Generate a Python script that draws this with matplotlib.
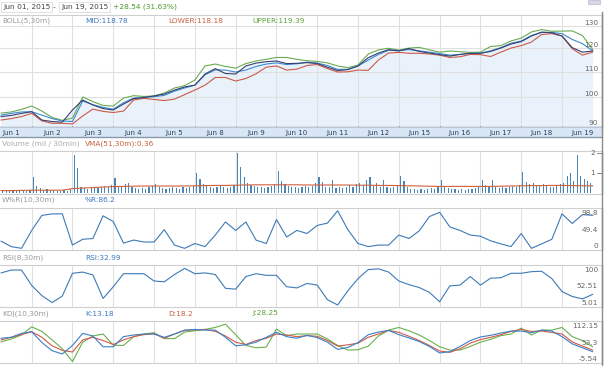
import numpy as np
import matplotlib.pyplot as plt
from matplotlib.patches import Rectangle

W, H = 605, 366

# ---- data (30 min bars, sampled every quarter day) ----
days = ['Jun 1', 'Jun 2', 'Jun 3', 'Jun 4', 'Jun 5', 'Jun 8', 'Jun 9', 'Jun 10',
        'Jun 11', 'Jun 12', 'Jun 15', 'Jun 16', 'Jun 17', 'Jun 18', 'Jun 19']

close = [93.1, 93.5, 94.2, 94.8, 91.9, 91.4, 91.2, 95.4, 99.0, 97.2,
         95.9, 95.4, 97.5, 99.5, 99.9, 100.5, 101.2, 102.7, 103.9, 104.6,
         109.0, 111.2, 109.2, 109.0, 112.3, 113.5, 114.1, 114.4, 113.3, 113.4,
         113.7, 113.3, 111.8, 110.4, 110.8, 112.3, 115.8, 117.8, 119.3, 118.7,
         119.8, 118.5, 117.8, 117.1, 116.5, 117.2, 117.7, 117.7, 118.5, 120.0,
         121.8, 122.9, 125.5, 127.3, 127.0, 125.5, 120.2, 118.2, 118.7]
upper = [94.3, 94.7, 95.6, 96.8, 95.0, 92.8, 91.8, 92.6, 100.1, 98.4,
         97.0, 96.8, 99.7, 100.6, 100.3, 100.5, 101.6, 103.5, 104.4, 106.6,
         112.3, 113.1, 112.1, 111.4, 113.3, 114.4, 115.1, 115.9, 115.9, 115.1,
         114.5, 114.2, 113.6, 112.3, 111.6, 112.7, 117.4, 119.2, 119.9, 119.1,
         120.0, 120.3, 119.2, 118.2, 118.7, 118.4, 118.1, 118.2, 120.7, 121.1,
         123.2, 124.5, 127.4, 128.5, 127.7, 127.8, 127.9, 125.7, 119.4]
mid = [93.6, 94.2, 94.7, 94.8, 93.6, 92.4, 91.6, 91.4, 98.6, 97.3,
       96.3, 95.7, 98.0, 99.7, 100.0, 100.2, 100.7, 102.3, 103.5, 104.6,
       108.7, 110.7, 110.6, 109.8, 110.6, 112.1, 113.1, 113.6, 112.9, 113.2,
       113.9, 113.5, 112.5, 110.9, 110.9, 112.3, 114.8, 117.2, 119.0, 118.9,
       119.3, 118.8, 118.2, 117.6, 116.9, 117.2, 117.7, 117.7, 118.8, 120.2,
       122.2, 123.2, 125.7, 127.2, 127.2, 126.6, 123.9, 122.0, 118.78]
lower = [91.9, 92.4, 93.1, 94.2, 91.6, 90.8, 90.8, 90.6, 93.3, 95.7,
         94.9, 94.5, 95.0, 99.0, 99.6, 99.2, 98.8, 99.3, 101.0, 102.7,
         104.6, 107.6, 107.6, 106.2, 107.2, 109.1, 111.8, 112.3, 110.6, 111.0,
         112.5, 112.9, 111.2, 109.8, 109.9, 110.6, 110.5, 114.8, 117.8, 118.1,
         117.7, 117.7, 117.4, 116.9, 115.9, 116.2, 117.2, 117.1, 116.3, 118.2,
         120.0, 121.1, 122.7, 126.2, 126.6, 125.5, 119.7, 116.9, 118.18]

vma = [0.12, 0.12, 0.13, 0.14, 0.14, 0.14, 0.14, 0.22, 0.25, 0.27,
       0.30, 0.32, 0.33, 0.34, 0.35, 0.35, 0.35, 0.35, 0.35, 0.36,
       0.37, 0.38, 0.38, 0.39, 0.40, 0.41, 0.41, 0.41, 0.41, 0.41,
       0.40, 0.40, 0.40, 0.40, 0.40, 0.39, 0.39, 0.38, 0.38, 0.37,
       0.36, 0.35, 0.34, 0.33, 0.33, 0.33, 0.33, 0.33, 0.33, 0.34,
       0.35, 0.36, 0.37, 0.37, 0.38, 0.38, 0.37, 0.36, 0.36]

# volume bars, 12 per day (first day starts late, last day ends early)
vol_days = [
    [0.10, 0.12, 0.10, 0.08, 0.10, 0.09, 0.12, 0.10, 0.15],
    [0.80, 0.35, 0.25, 0.15, 0.20, 0.12, 0.15, 0.12, 0.10, 0.15, 0.12, 0.20],
    [1.90, 1.25, 0.30, 0.25, 0.20, 0.25, 0.30, 0.25, 0.30, 0.35, 0.30, 0.40],
    [0.75, 0.35, 0.30, 0.45, 0.50, 0.30, 0.25, 0.20, 0.25, 0.20, 0.30, 0.35],
    [0.45, 0.30, 0.25, 0.20, 0.25, 0.30, 0.25, 0.20, 0.30, 0.25, 0.30, 0.35],
    [1.00, 0.70, 0.45, 0.35, 0.30, 0.25, 0.30, 0.35, 0.30, 0.25, 0.30, 0.40],
    [2.00, 1.30, 0.80, 0.50, 0.40, 0.35, 0.30, 0.30, 0.25, 0.30, 0.35, 0.45],
    [1.10, 0.60, 0.45, 0.35, 0.30, 0.30, 0.25, 0.30, 0.35, 0.30, 0.35, 0.50],
    [0.80, 0.55, 0.30, 0.30, 0.65, 0.25, 0.30, 0.25, 0.30, 0.40, 0.30, 0.45],
    [0.50, 0.40, 0.65, 0.80, 0.35, 0.50, 0.30, 0.65, 0.30, 0.25, 0.30, 0.40],
    [0.85, 0.60, 0.30, 0.20, 0.20, 0.15, 0.20, 0.15, 0.20, 0.25, 0.20, 0.30],
    [0.65, 0.30, 0.25, 0.20, 0.20, 0.15, 0.20, 0.15, 0.20, 0.20, 0.25, 0.30],
    [0.65, 0.40, 0.30, 0.65, 0.30, 0.25, 0.30, 0.25, 0.30, 0.35, 0.30, 0.40],
    [1.05, 0.55, 0.45, 0.50, 0.40, 0.35, 0.45, 0.35, 0.30, 0.30, 0.35, 0.45],
    [0.50, 0.85, 1.00, 0.60, 1.90, 0.85, 0.70, 0.60, 0.50],
]

wr = [19, 5, 0.5, 47, 86, 90, 90, 9, 24, 26,
      85, 70, 14, 22, 17, 17, 49, 9, 0.5, 13,
      5, 35, 69, 47, 69, 22, 13, 75, 30, 47,
      39, 60, 66, 98, 49, 13, 5, 9, 9, 35,
      26, 46, 83, 94, 56, 47, 35, 32, 20, 12,
      5, 39, 0.5, 12, 24, 90, 65, 88, 86.2]
rsi = [86, 93, 93, 55, 30, 13, 29, 85, 88, 81,
       23, 52, 84, 84, 84, 66, 64, 82, 97, 84,
       86, 82, 48, 46, 77, 84, 80, 80, 52, 49,
       60, 56, 20, 7, 42, 72, 94, 96, 88, 66,
       57, 50, 38, 15, 54, 56, 77, 56, 73, 74,
       85, 85, 89, 90, 72, 40, 28, 22, 32.99]
k_line = [67, 70, 82, 87, 54, 29, 19, 45, 82, 74,
          41, 41, 72, 77, 80, 80, 70, 80, 92, 94,
          92, 92, 70, 44, 47, 55, 70, 85, 72, 67,
          76, 69, 55, 33, 39, 54, 78, 86, 91, 78,
          68, 57, 42, 22, 26, 42, 60, 71, 76, 83,
          89, 89, 84, 92, 89, 72, 50, 38, 26]
d_line = [62, 70, 78, 87, 70, 44, 30, 25, 62, 70,
          60, 48, 62, 72, 78, 81, 67, 80, 91, 93,
          94, 88, 74, 55, 48, 60, 67, 80, 77, 72,
          75, 73, 60, 43, 47, 52, 70, 80, 91, 85,
          73, 60, 45, 28, 24, 35, 52, 63, 70, 78,
          88, 94, 88, 89, 85, 80, 56, 43, 31]
j_line = [56, 65, 77, 102, 88, 62, 35, -4, 55, 74,
          80, 46, 45, 72, 80, 84, 66, 66, 86, 90,
          94, 100, 110, 78, 45, 38, 40, 95, 75, 80,
          80, 80, 65, 45, 31, 32, 43, 74, 92, 100,
          90, 77, 60, 41, 31, 31, 42, 55, 64, 75,
          80, 98, 77, 92, 92, 100, 72, 60, 41]

# ---- positions ----
t = 0.25 + 0.25 * np.arange(len(close))
vx, vy = [], []
for d, vals in enumerate(vol_days):
    start = 12 - len(vals) if d == 0 else 0
    for k, v in enumerate(vals):
        vx.append(d + (start + k + 0.5) / 12)
        vy.append(v)

XMIN, XMAX = 0.223, 14.98
GRID = '#e0e0e0'
BORDER = '#cfcfcf'
TXT = 5.3

fig = plt.figure(figsize=(W / 100, H / 100), dpi=100)
fig.patch.set_facecolor('white')


def px_axes(top, bottom, left=0, right=602):
    ax = fig.add_axes([left / W, 1 - bottom / H, (right - left) / W, (bottom - top) / H])
    ax.set_xlim(XMIN, XMAX)
    ax.set_xticks([])
    ax.set_yticks([])
    ax.minorticks_off()
    for s in ['top', 'bottom']:
        ax.spines[s].set_color(BORDER)
        ax.spines[s].set_linewidth(0.8)
    ax.spines['left'].set_visible(False)
    ax.spines['right'].set_color('#8c8c8c')
    ax.spines['right'].set_linewidth(1.0)
    for g in range(1, 15):
        ax.axvline(g, color=GRID, lw=0.8, zorder=1)
    return ax


def ftext(x, y, s, color, size=TXT, **kw):
    fig.text(x / W, 1 - y / H, s, color=color, fontsize=size, va='center', ha='left', **kw)


def right_labels(ax, vals, aligns):
    for v, a in zip(vals, aligns):
        ax.text(598 / 602, v, v if isinstance(v, str) else f'{v:g}', transform=ax.get_yaxis_transform(),
                ha='right', va=a, fontsize=TXT, color='#666666', zorder=5)


# ---- header ----
box = dict(boxstyle='square,pad=0.25', facecolor='white', edgecolor='#dddddd', lw=0.6)
ftext(3, 7, 'Jun 01, 2015', '#444444', 5.4, bbox=box)
ftext(53, 7, '-', '#444444', 5.4)
ftext(61, 7, 'Jun 19, 2015', '#444444', 5.4, bbox=box)
ftext(113, 7, '+28.54 (31.63%)', '#4c9a2a', 5.4)
fig.patches.append(Rectangle((588 / W, 1 - 4 / H), 12 / W, 4 / H, transform=fig.transFigure,
                             facecolor='#d8d8e8', edgecolor='#b8b8c8', lw=0.5))

# ---- BOLL panel ----
ax = px_axes(14.5, 127.5)
ax.set_yscale('log')
ax.set_ylim(89.4, 135.9)
ax.minorticks_off()
ax.set_yticks([])
for lv in [90, 100, 110, 120, 130]:
    ax.axhline(lv, color=GRID, lw=0.8, zorder=1)
ax.fill_between(t, close, 80, color='#e9f2fb', lw=0, zorder=0.5)
ax.plot(t, upper, color='#6aaa52', lw=0.8, zorder=3)
ax.plot(t, lower, color='#cc5a48', lw=0.8, zorder=3)
ax.plot(t, mid, color='#3d8ad0', lw=0.8, zorder=3)
ax.plot(t, close, color='#34406e', lw=0.8, zorder=4)
for lv in [90, 100, 110, 120, 130]:
    ax.text(598 / 602, lv, str(lv), transform=ax.get_yaxis_transform(),
            ha='right', va='bottom', fontsize=TXT, color='#666666', zorder=5)
for g in range(1, 15):
    ax.plot([g, g], [89.4, 89.9], color='#888888', lw=0.6, zorder=5)
ftext(2, 21, 'BOLL(5,30m)', '#9a9a9a')
ftext(85, 21, 'MID:118.78', '#3b78c2')
ftext(168, 21, 'LOWER:118.18', '#c8603c')
ftext(252, 21, 'UPPER:119.39', '#5a9e3a')

# date bar
axd = fig.add_axes([0, 1 - 137.5 / H, 602 / W, 10 / H])
axd.set_xlim(XMIN, XMAX)
axd.set_ylim(0, 1)
axd.set_xticks([])
axd.set_yticks([])
axd.set_facecolor('#d9e6f5')
axd.spines['left'].set_visible(False)
axd.spines['top'].set_color('#b8c8dc')
axd.spines['bottom'].set_color('#8a98ac')
axd.spines['bottom'].set_linewidth(1.0)
axd.spines['right'].set_color('#8c8c8c')
for i, lab in enumerate(days):
    axd.text(i + 0.5, 0.45, lab, ha='center', va='center', fontsize=5.0, color='#2a3f5f')

# ---- volume panel ----
ftext(2, 144, 'Volume (mil / 30min)', '#aaaaaa')
ftext(85, 144, 'VMA(51,30m):0.36', '#c8603c')
axv = px_axes(151, 194)
axv.set_ylim(-0.05, 2.1)
axv.bar(vx, vy, width=0.028, color='#4a86b8', zorder=2)
axv.plot(t, vma, color='#d0603c', lw=0.8, zorder=3)
for lv in [1, 2]:
    axv.text(595 / 602, lv, str(lv), transform=axv.get_yaxis_transform(),
             ha='right', va='center', fontsize=TXT, color='#666666')
    axv.plot([597 / 602, 1], [lv, lv], transform=axv.get_yaxis_transform(), color='#777777', lw=0.6)

# ---- W%R panel ----
ftext(2, 200, 'W%R(10,30m)', '#9a9a9a')
ftext(85, 200, '%R:86.2', '#3b78c2')
axw = px_axes(207.5, 250)
axw.set_ylim(-3.8, 106.5)
axw.plot(t, wr, color='#3d7ab8', lw=0.8, zorder=3)
right_labels(axw, ['98.8', '49.4', '0'], ['top', 'center', 'bottom'])
for s, v in zip(axw.texts, [98.8, 49.4, 0]):
    s.set_y(v)

# ---- RSI panel ----
ftext(2, 258, 'RSI(8,30m)', '#9a9a9a')
ftext(85, 258, 'RSI:32.99', '#3b78c2')
axr = px_axes(265, 306.7)
axr.set_ylim(2.8, 105.4)
axr.plot(t, rsi, color='#3d7ab8', lw=0.8, zorder=3)
right_labels(axr, ['100', '52.51', '5.01'], ['top', 'center', 'bottom'])
for s, v in zip(axr.texts, [100, 52.51, 5.01]):
    s.set_y(v)

# ---- KDJ panel ----
ftext(2, 313.5, 'KDJ(10,30m)', '#9a9a9a')
ftext(85, 313.5, 'K:13.18', '#3b78c2')
ftext(168, 313.5, 'D:18.2', '#c8603c')
ftext(252, 313.5, 'J:28.25', '#5a9e3a')
axk = px_axes(320.7, 363.3)
axk.set_ylim(-9.5, 120.7)
axk.plot(t, j_line, color='#6ab04c', lw=0.8, zorder=3)
axk.plot(t, d_line, color='#d05a48', lw=0.8, zorder=3)
axk.plot(t, k_line, color='#3a7fc8', lw=0.8, zorder=4)
right_labels(axk, ['112.15', '53.3', '-5.54'], ['top', 'center', 'bottom'])
for s, v in zip(axk.texts, [112.15, 53.3, -5.54]):
    s.set_y(v)

# right border through the label rows
fig.add_artist(plt.Line2D([602 / W, 602 / W], [0, 1 - 12 / H], transform=fig.transFigure,
                          color='#8c8c8c', lw=1.0))

fig.savefig('out.png', dpi=100)
